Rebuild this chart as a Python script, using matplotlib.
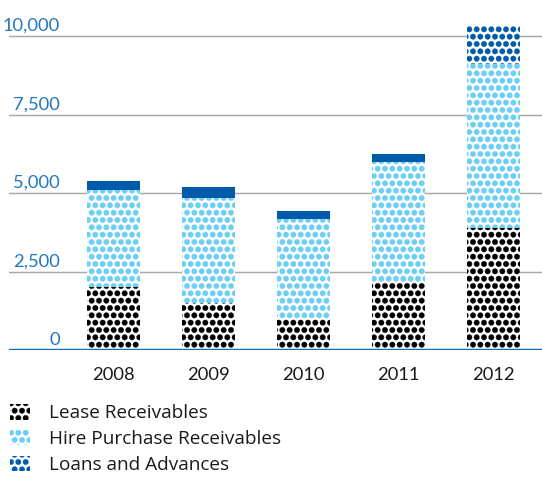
import matplotlib
matplotlib.use("Agg")
import matplotlib.pyplot as plt
import matplotlib.hatch as mhatch
from matplotlib.patches import Rectangle
from matplotlib.transforms import offset_copy

# Larger filled dots for the '.' hatch pattern
mhatch.SmallFilledCircles.size = 0.37
plt.rcParams["hatch.linewidth"] = 0.3
plt.rcParams["font.family"] = ["Lato", "DejaVu Sans"]

years = ["2008", "2009", "2010", "2011", "2012"]
lease = [2000, 1510, 990, 2150, 3880]
hire_purchase = [3085, 3330, 3190, 3850, 5215]
loans = [310, 360, 255, 255, 1220]
series_names = ["Lease Receivables", "Hire Purchase Receivables", "Loans and Advances"]
yticks = [0, 2500, 5000, 7500, 10000]
ytick_labels = ["0", "2,500", "5,000", "7,500", "10,000"]

c_lease = "#000000"
c_hire = "#6DCFF6"
c_loans = "#005BAA"
c_axis = "#1B6BB3"
c_grid = "#A8A8A8"
c_ylab = "#2277C0"

DPI = 88
W, H = 542, 481
fig = plt.figure(figsize=(W / DPI, H / DPI), dpi=DPI)

# axes frame in pixels
ax_left, ax_right, ax_bottom, ax_top = 9, 542, 350, 20
ax = fig.add_axes([ax_left / W, 1 - ax_bottom / H,
                   (ax_right - ax_left) / W, (ax_bottom - ax_top) / H])
px_per_unit = 314.0 / 10000
ax.set_ylim(0, (ax_bottom - ax_top) / px_per_unit)
x = list(range(len(years)))
ax.set_xlim(-1.1, 4.51)
width = 0.558

for s in ax.spines.values():
    s.set_visible(False)

for v in yticks[1:]:
    ax.axhline(v, color=c_grid, lw=1.2, zorder=0)

bottoms2 = [a + b for a, b in zip(lease, hire_purchase)]
b1 = ax.bar(x, lease, width, color="white", edgecolor=c_lease, lw=0, hatch="..", zorder=2)
b2 = ax.bar(x, hire_purchase, width, bottom=lease, color="white", edgecolor=c_hire,
            lw=0, hatch="..", zorder=2)
b3 = ax.bar(x, loans, width, bottom=bottoms2, color="white", edgecolor=c_loans,
            lw=0, hatch="..", zorder=2)
# thin loan segments render as a solid band
for p, v in zip(b3.patches, loans):
    if v < 500:
        p.set_hatch(None)
        p.set_facecolor(c_loans)

ax.axhline(0, color=c_axis, lw=2.0, zorder=3)

ax.set_yticks([])
ax.set_xticks(x)
ax.set_xticklabels(years, fontsize=15, color="#1a1a1a")
ax.tick_params(axis="x", length=0, pad=14)

ylab_tr = offset_copy(ax.get_yaxis_transform(), fig=fig, x=0, y=5, units="dots")
for v, lab in zip(yticks, ytick_labels):
    ax.text((60 - ax_left) / (ax_right - ax_left), v, lab, transform=ylab_tr,
            ha="right", va="baseline", fontsize=15, color=c_ylab)

handles = [Rectangle((0, 0), 1, 1, facecolor="white", edgecolor=c, lw=0, hatch="..")
           for c in (c_lease, c_hire, c_loans)]
fig.legend(handles, series_names, loc="upper left",
           bbox_to_anchor=(6 / W, 1 - 400 / H), frameon=False,
           prop={"family": ["Open Sans", "DejaVu Sans"], "size": 15.5},
           handlelength=1.05, handleheight=0.9, handletextpad=1.0,
           labelspacing=0.40, borderaxespad=0, borderpad=0.2, labelcolor="#1a1a1a")

fig.savefig("out.png", dpi=DPI)
